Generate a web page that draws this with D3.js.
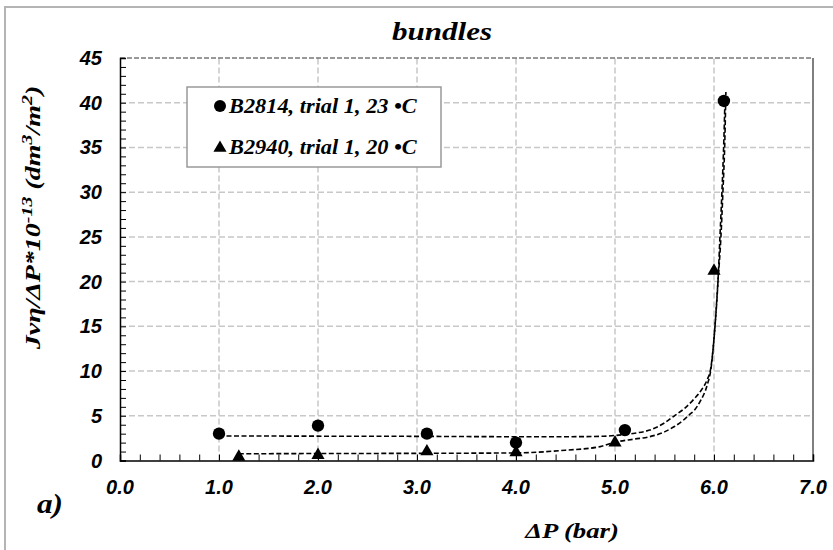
<!DOCTYPE html>
<html>
<head>
<meta charset="utf-8">
<script src="https://cdn.jsdelivr.net/npm/d3@7"></script>
<style>
  body { margin: 0; background: #fff; }
  svg { display: block; }
</style>
</head>
<body>
<div class="visHolder"></div>
<script>
const width = 833;
const height = 550;

// measured data
const circleX = [1.0, 2.0, 3.1, 4.0, 5.1, 6.1];
const circleY = [3.0, 3.9, 3.0, 2.0, 3.4, 40.2];
const triangleX = [1.2, 2.0, 3.1, 4.0, 5.0, 6.0];
const triangleY = [0.4, 0.6, 1.0, 0.9, 2.0, 21.2];

// fitted trend lines
const fitCircleX = [1.0, 2.0, 3.0, 4.0, 4.5, 4.85, 5.0, 5.2, 5.35, 5.5, 5.6, 5.7, 5.8, 5.88, 5.93, 5.97, 6.01, 6.04, 6.07, 6.09, 6.11, 6.12];
const fitCircleY = [2.75, 2.72, 2.7, 2.66, 2.66, 2.7, 2.8, 3.05, 3.4, 4.2, 5.0, 5.8, 6.9, 8.0, 9.0, 10.5, 15, 20, 25, 30, 36, 41.2];
const fitTriX = [1.2, 2.0, 3.0, 4.0, 4.5, 4.85, 5.0, 5.2, 5.35, 5.5, 5.6, 5.69, 5.75, 5.8, 5.86, 5.93, 5.97, 6.01, 6.04, 6.06, 6.08, 6.1, 6.11];
const fitTriY = [0.75, 0.78, 0.8, 0.85, 1.15, 1.55, 2.05, 2.4, 2.66, 3.2, 3.8, 4.5, 5.1, 5.6, 6.6, 8.4, 10.3, 15, 20, 25, 30, 36, 40];

const xTicks = [0, 1, 2, 3, 4, 5, 6, 7];
const yTicks = [0, 5, 10, 15, 20, 25, 30, 35, 40, 45];
const legendLabels = ['B2814, trial 1, 23 •C', 'B2940, trial 1, 20 •C'];

const sansFont = 'Liberation Sans, Arial, sans-serif';
const serifFont = 'Liberation Serif, Times New Roman, serif';

const margin = { left: 120, right: 20, top: 58, bottom: 89.5 };
const plotW = width - margin.left - margin.right;
const plotH = height - margin.top - margin.bottom;

const svg = d3.select('.visHolder')
  .append('svg')
  .attr('width', width)
  .attr('height', height);

// bold italic serif text
const serifText = (sel, size) => sel
  .attr('font-family', serifFont)
  .attr('font-weight', 'bold')
  .attr('font-style', 'italic')
  .attr('font-size', size)
  .attr('fill', '#000');

// the source figure is stretched sideways, so widen the text to the measured width
const stretchTo = (sel, w, tx, ty, rot) => {
  const k = w / sel.node().getBBox().width;
  sel.attr('transform', `translate(${tx}, ${ty}) rotate(${rot || 0}) scale(${k}, 1)`);
};

// outer frame (only top and left show in the picture)
svg.append('path')
  .attr('d', `M5,${height} V7 H${width}`)
  .attr('fill', 'none')
  .attr('stroke', '#b4b4b4')
  .attr('stroke-width', 2);

const x = d3.scaleLinear().domain([0, 7]).range([margin.left, margin.left + plotW]);
const y = d3.scaleLinear().domain([0, 45]).range([margin.top + plotH, margin.top]);

// grid
svg.append('g')
  .selectAll('line')
  .data(xTicks.slice(1, -1))
  .enter()
  .append('line')
  .attr('x1', d => x(d)).attr('x2', d => x(d))
  .attr('y1', y(0)).attr('y2', y(45))
  .attr('stroke', '#c8c8c8')
  .attr('stroke-width', 1.5)
  .attr('stroke-dasharray', '6,3');

svg.append('g')
  .selectAll('line')
  .data(yTicks.slice(1, -1))
  .enter()
  .append('line')
  .attr('x1', x(0)).attr('x2', x(7))
  .attr('y1', d => y(d)).attr('y2', d => y(d))
  .attr('stroke', '#c8c8c8')
  .attr('stroke-width', 1.5)
  .attr('stroke-dasharray', '6,3');

// plot border: top dashed, right solid
svg.append('line')
  .attr('x1', x(0)).attr('x2', x(7))
  .attr('y1', y(45)).attr('y2', y(45))
  .attr('stroke', '#333')
  .attr('stroke-dasharray', '5,2');
svg.append('line')
  .attr('x1', x(7)).attr('x2', x(7))
  .attr('y1', y(45)).attr('y2', y(0))
  .attr('stroke', '#000');

// axes with inside minor ticks
const xAxis = d3.axisBottom(x)
  .tickValues(d3.range(0, 36).map(i => i / 5))
  .tickSize(-6)
  .tickFormat('');
svg.append('g')
  .attr('transform', `translate(0, ${y(0)})`)
  .call(xAxis)
  .call(g => g.select('.domain').attr('stroke-width', 1.5))
  .call(g => g.selectAll('.tick line').attr('stroke-width', 1));

const yAxis = d3.axisLeft(y)
  .tickValues(d3.range(0, 46))
  .tickSize(-6)
  .tickFormat('');
svg.append('g')
  .attr('transform', `translate(${x(0)}, 0)`)
  .call(yAxis)
  .call(g => g.select('.domain').attr('stroke-width', 1.5))
  .call(g => g.selectAll('.tick line').attr('stroke-width', 1));

// tick labels
svg.append('g')
  .attr('font-family', sansFont)
  .attr('font-weight', 'bold')
  .attr('font-style', 'italic')
  .attr('font-size', 20)
  .selectAll('text')
  .data(xTicks)
  .enter()
  .append('text')
  .attr('x', d => x(d))
  .attr('y', 494)
  .attr('text-anchor', 'middle')
  .text(d => d.toFixed(1));

svg.append('g')
  .attr('font-family', sansFont)
  .attr('font-weight', 'bold')
  .attr('font-style', 'italic')
  .attr('font-size', 20)
  .selectAll('text')
  .data(yTicks)
  .enter()
  .append('text')
  .attr('x', 102)
  .attr('y', d => y(d) + 7)
  .attr('text-anchor', 'end')
  .text(d => d);

// trend lines
const line = d3.line().curve(d3.curveMonotoneX);
const fits = [
  d3.zip(fitCircleX, fitCircleY),
  d3.zip(fitTriX, fitTriY)
];
svg.append('g')
  .selectAll('path')
  .data(fits)
  .enter()
  .append('path')
  .attr('d', d => line(d.map(p => [x(p[0]), y(p[1])])))
  .attr('fill', 'none')
  .attr('stroke', '#000')
  .attr('stroke-width', 1.6)
  .attr('stroke-dasharray', '5,2.5');

// markers
svg.append('g')
  .selectAll('circle')
  .data(d3.zip(circleX, circleY))
  .enter()
  .append('circle')
  .attr('cx', d => x(d[0]))
  .attr('cy', d => y(d[1]))
  .attr('r', 6.2)
  .attr('fill', '#000');

const tri = d3.symbol().type(d3.symbolTriangle).size(75);
svg.append('g')
  .selectAll('path')
  .data(d3.zip(triangleX, triangleY))
  .enter()
  .append('path')
  .attr('d', tri)
  .attr('transform', d => `translate(${x(d[0])}, ${y(d[1])})`)
  .attr('fill', '#000');

// title
svg.append('text')
  .call(serifText, 25)
  .attr('text-anchor', 'middle')
  .text('bundles')
  .call(stretchTo, 100, 442, 40);

// legend
const legend = svg.append('g');
legend.append('rect')
  .attr('x', 187).attr('y', 87)
  .attr('width', 254).attr('height', 80)
  .attr('fill', '#fff')
  .attr('stroke', '#999')
  .attr('stroke-width', 1.5);
legend.append('circle')
  .attr('cx', 220).attr('cy', 106)
  .attr('r', 6)
  .attr('fill', '#000');
legend.append('path')
  .attr('d', tri)
  .attr('transform', 'translate(220, 148)')
  .attr('fill', '#000');
legend.selectAll('text')
  .data(legendLabels)
  .enter()
  .append('text')
  .call(serifText, 21)
  .text(d => d)
  .each(function (d, i) {
    d3.select(this).call(stretchTo, 190, 229, 113 + i * 41);
  });

// y axis title
const yTitle = svg.append('text')
  .call(serifText, 21)
  .attr('text-anchor', 'middle');
yTitle.append('tspan').text('Jvη/ΔP*10');
yTitle.append('tspan').attr('dy', -8).attr('font-size', 15).text('-13');
yTitle.append('tspan').attr('dy', 8).text(' (dm');
yTitle.append('tspan').attr('dy', -8).attr('font-size', 15).text('3');
yTitle.append('tspan').attr('dy', 8).text('/m');
yTitle.append('tspan').attr('dy', -8).attr('font-size', 15).text('2');
yTitle.append('tspan').attr('dy', 8).text(')');
yTitle.call(stretchTo, 265, 40, 217.5, -90);

// x axis title
svg.append('text')
  .call(serifText, 22)
  .attr('text-anchor', 'middle')
  .text('ΔP (bar)')
  .call(stretchTo, 95, 572, 538);

svg.append('text')
  .call(serifText, 27)
  .text('a)')
  .call(stretchTo, 26, 37, 513);
</script>
</body>
</html>
